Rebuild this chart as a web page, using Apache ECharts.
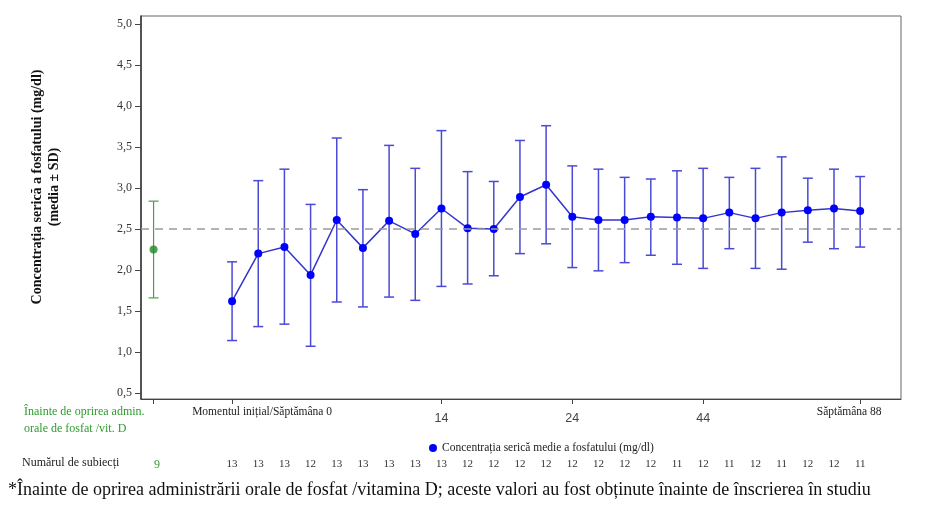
<!DOCTYPE html>
<html>
<head>
<meta charset="utf-8">
<script src="https://cdn.jsdelivr.net/npm/echarts@6/dist/echarts.min.js"></script>
<style>
  html, body { margin: 0; padding: 0; background: #fff; }
  #chart { width: 929px; height: 507px; }
</style>
</head>
<body>
<div id="chart"></div>
<script>
// pre-study value (before stopping oral phosphate / vit. D)
const prePos = 0
const preMean = 2.25
const preUpper = 2.84
const preLower = 1.66
const preCount = 9

// study visits, x position on the axis
const visitPos = [3, 4, 5, 6, 7, 8, 9, 10, 11, 12, 13, 14, 15, 16, 17, 18, 19, 20, 21, 22, 23, 24, 25, 26, 27]
const means = [1.62, 2.20, 2.28, 1.94, 2.61, 2.27, 2.60, 2.44, 2.75, 2.51, 2.50, 2.89, 3.04, 2.65, 2.61, 2.61, 2.65, 2.64, 2.63, 2.70, 2.63, 2.70, 2.73, 2.75, 2.72]
const upper = [2.10, 3.09, 3.23, 2.80, 3.61, 2.98, 3.52, 3.24, 3.70, 3.20, 3.08, 3.58, 3.76, 3.27, 3.23, 3.13, 3.11, 3.21, 3.24, 3.13, 3.24, 3.38, 3.12, 3.23, 3.14]
const lower = [1.14, 1.31, 1.34, 1.07, 1.61, 1.55, 1.67, 1.63, 1.80, 1.83, 1.93, 2.20, 2.32, 2.03, 1.99, 2.09, 2.18, 2.07, 2.02, 2.26, 2.02, 2.01, 2.34, 2.26, 2.28]
const counts = [13, 13, 13, 12, 13, 13, 13, 13, 13, 12, 12, 12, 12, 12, 12, 12, 12, 11, 12, 11, 12, 11, 12, 12, 11]

// x tick labels
const tickPos = [0, 3, 11, 16, 21, 27]
const tickLabels = ['', 'Momentul inițial/Săptămâna 0', '14', '24', '44', 'Săptămâna 88']
const yTicks = [0.5, 1.0, 1.5, 2.0, 2.5, 3.0, 3.5, 4.0, 4.5, 5.0]
const refLevel = 2.5

const serif = '"Liberation Serif", "DejaVu Serif", serif'
const blue = '#0000ff'
const barBlue = '#4a4ad6'
const green = '#1f8a1f'
const barGreen = '#4f9a4f'

const chart = echarts.init(document.getElementById('chart'))

function errorBar(color, width) {
  return function (params, api) {
    const x = api.value(0)
    const top = api.coord([x, api.value(2)])
    const bot = api.coord([x, api.value(1)])
    const half = 5
    const style = { stroke: color, lineWidth: width }
    return {
      type: 'group',
      children: [
        { type: 'line', shape: { x1: top[0], y1: top[1], x2: bot[0], y2: bot[1] }, style },
        { type: 'line', shape: { x1: top[0] - half, y1: top[1], x2: top[0] + half, y2: top[1] }, style },
        { type: 'line', shape: { x1: bot[0] - half, y1: bot[1], x2: bot[0] + half, y2: bot[1] }, style },
      ],
    }
  }
}

const countByPos = { [prePos]: preCount }
visitPos.forEach((p, i) => { countByPos[p] = counts[i] })

chart.setOption({
  backgroundColor: '#fff',
  animation: false,
  grid: {
    left: 141, right: 28, top: 16, bottom: 108,
    show: true, borderColor: '#666', borderWidth: 1,
  },
  legend: {
    left: 424, top: 437,
    icon: 'circle', itemWidth: 8, itemHeight: 8, itemGap: 4,
    data: ['Concentrația serică medie a fosfatului (mg/dl)'],
    textStyle: { fontFamily: serif, fontSize: 11.5, color: '#222' },
  },
  xAxis: [
    {
      type: 'value',
      min: -0.48, max: 28.56,
      splitLine: { show: false },
      axisLine: { onZero: false, lineStyle: { color: '#444', width: 1 } },
      axisTick: { customValues: tickPos, length: 5, lineStyle: { color: '#444' } },
      axisLabel: {
        customValues: tickPos,
        margin: 7,
        formatter: (v) => {
          const i = tickPos.indexOf(v)
          const t = tickLabels[i]
          if (!t) return ''
          if (i === 1) return '{a|' + t + '}'
          if (i === tickPos.length - 1) return '{b|' + t + '}'
          return '{n|' + t + '}'
        },
        rich: {
          a: { fontFamily: serif, fontSize: 11.5, color: '#222', padding: [0, 0, 0, 60] },
          b: { fontFamily: serif, fontSize: 11.5, color: '#222', padding: [0, 22, 0, 0] },
          n: { fontFamily: '"Liberation Sans", Arial, sans-serif', fontSize: 12.5, color: '#444', padding: [6, 0, 0, 0] },
        },
      },
    },
    {
      type: 'value',
      position: 'bottom',
      min: -0.48, max: 28.56,
      splitLine: { show: false },
      axisLine: { show: false, onZero: false },
      axisTick: { show: false },
      axisLabel: {
        customValues: [prePos].concat(visitPos),
        margin: 60,
        formatter: (v) => (v === prePos ? '{g|' + countByPos[v] + '}' : '{c|' + countByPos[v] + '}'),
        rich: {
          g: { fontFamily: serif, fontSize: 12, color: '#3a9a3a', padding: [0, 0, 0, 7] },
          c: { fontFamily: serif, fontSize: 11, color: '#333' },
        },
      },
    },
  ],
  yAxis: {
    type: 'value',
    min: 0.427, max: 5.098,
    splitLine: { show: false },
    axisLine: { show: true, onZero: false, lineStyle: { color: '#333', width: 1.5 } },
    axisTick: { show: true, customValues: yTicks, length: 6, lineStyle: { color: '#444' } },
    axisLabel: {
      customValues: yTicks,
      margin: 9,
      fontFamily: serif, fontSize: 12, color: '#333',
      formatter: (v) => v.toFixed(1).replace('.', ','),
    },
  },
  series: [
    {
      type: 'custom',
      silent: true,
      renderItem: errorBar(barGreen, 1.2),
      data: [[prePos, preLower, preUpper]],
      z: 2,
    },
    {
      type: 'custom',
      silent: true,
      renderItem: errorBar(barBlue, 1.5),
      data: visitPos.map((p, i) => [p, lower[i], upper[i]]),
      z: 2,
    },
    {
      type: 'scatter',
      symbolSize: 8,
      itemStyle: { color: green },
      data: [[prePos, preMean]],
      z: 3,
    },
    {
      name: 'Concentrația serică medie a fosfatului (mg/dl)',
      type: 'line',
      symbol: 'circle',
      symbolSize: 8,
      itemStyle: { color: blue },
      lineStyle: { color: '#3434cc', width: 1.5 },
      data: visitPos.map((p, i) => [p, means[i]]),
      z: 3,
      markLine: {
        silent: true,
        symbol: 'none',
        label: { show: false },
        lineStyle: { color: '#9a9a9a', type: [8, 6], width: 1.5 },
        data: [{ yAxis: refLevel }],
      },
    },
  ],
  graphic: [
    {
      type: 'text',
      x: 46, y: 187, rotation: Math.PI / 2,
      style: {
        text: 'Concentrația serică a fosfatului (mg/dl)\n(media ± SD)',
        fontFamily: serif, fontWeight: 'bold', fontSize: 14, lineHeight: 17,
        fill: '#111', align: 'center', verticalAlign: 'middle',
      },
    },
    {
      type: 'text',
      left: 24, top: 403,
      style: {
        text: 'Înainte de oprirea admin.\norale de fosfat /vit. D',
        fontFamily: serif, fontSize: 12, lineHeight: 17, fill: '#2e9a2e',
      },
    },
    {
      type: 'text',
      left: 22, top: 457,
      style: { text: 'Numărul de subiecți', fontFamily: serif, fontSize: 12, fill: '#222' },
    },
    {
      type: 'text',
      left: 8, top: 481,
      style: {
        text: '*Înainte de oprirea administrării orale de fosfat /vitamina D; aceste valori au fost obținute înainte de înscrierea în studiu',
        fontFamily: serif, fontSize: 18, fill: '#111',
      },
    },
  ],
})
</script>
</body>
</html>
